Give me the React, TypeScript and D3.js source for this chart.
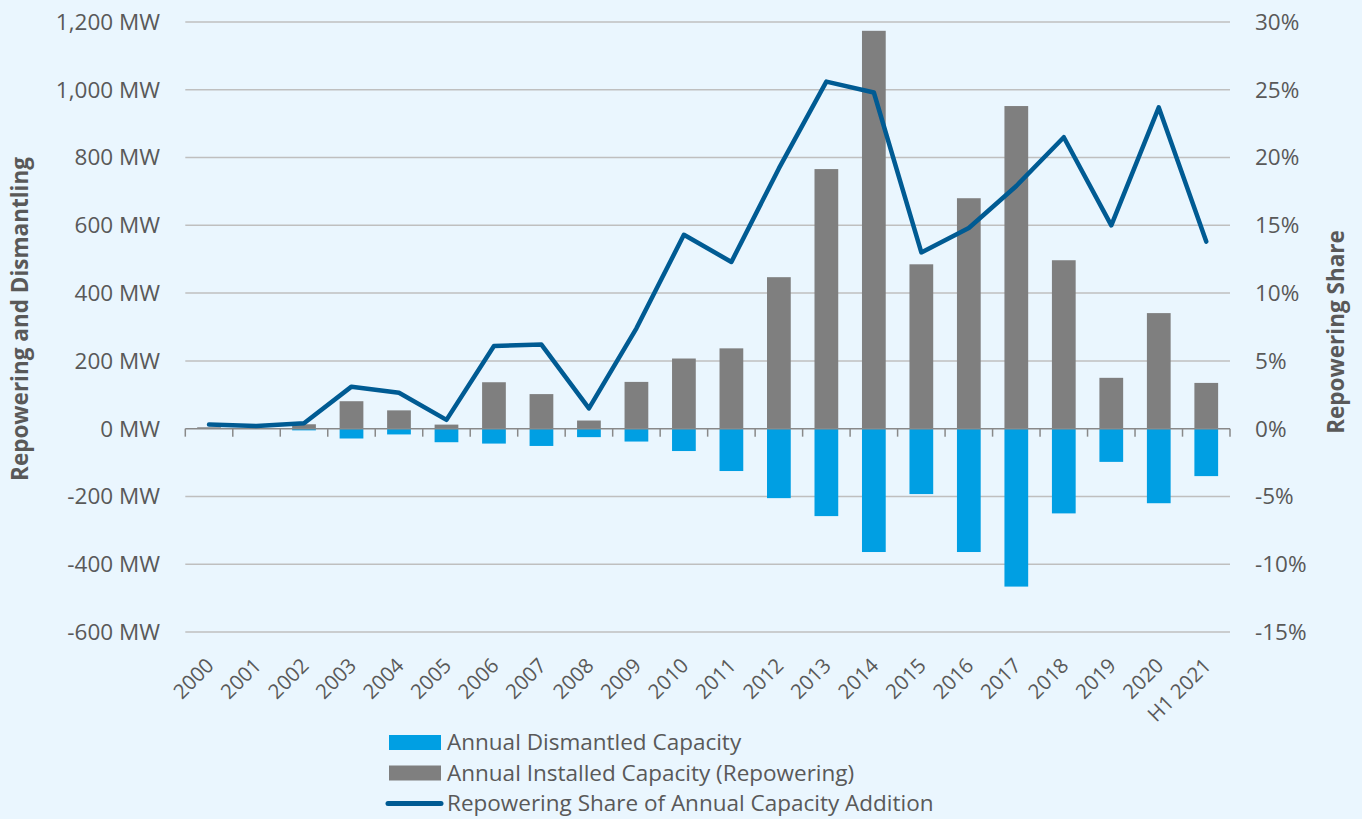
import React from "react";
import * as d3 from "d3";

const categories = ["2000","2001","2002","2003","2004","2005","2006","2007","2008","2009","2010","2011","2012","2013","2014","2015","2016","2017","2018","2019","2020","H1 2021"];
const installed = [4, 1, 13, 81, 54, 12, 137, 102, 24, 138, 207, 237, 447, 766, 1174, 485, 680, 952, 497, 150, 341, 135];
const dismantled = [0, 0, -5, -29, -17, -40, -44, -51, -25, -38, -66, -125, -205, -258, -364, -193, -364, -466, -250, -98, -220, -140];
const share = [0.3, 0.2, 0.4, 3.1, 2.65, 0.65, 6.1, 6.2, 1.5, 7.4, 14.3, 12.3, 19.2, 25.6, 24.8, 13.0, 14.8, 17.9, 21.5, 15.0, 23.7, 13.8];
const leftTicks = [-600, -400, -200, 0, 200, 400, 600, 800, 1000, 1200];
const rightTicks = [-15, -10, -5, 0, 5, 10, 15, 20, 25, 30];
const legendItems = ["Annual Dismantled Capacity", "Annual Installed Capacity (Repowering)", "Repowering Share of Annual Capacity Addition"];

const W = 1362, H = 819;
const left = 185.3, right = 1230, top = 22, bottom = 632;
const font = "'Open Sans', 'Noto Sans', sans-serif";
const textColor = "#595959";
const grey = "#7F7F7F", blue = "#009FE3", lineColor = "#005B93";
const fs = 22.5;

export default function App() {
  const x = d3.scaleBand().domain(categories).range([left, right]).paddingInner(0.5).paddingOuter(0.25);
  const xOuter = d3.scaleBand().domain(categories).range([left, right]);
  const y = d3.scaleLinear().domain([-600, 1200]).range([bottom, top]);
  const y2 = d3.scaleLinear().domain([-15, 30]).range([bottom, top]);
  const line = d3.line<number>().x((_, i) => (xOuter(categories[i]) as number) + xOuter.bandwidth() / 2).y(d => y2(d));
  const fmt = (v: number) => d3.format(",")(v).replace("\u2212", "-");
  return (
    <svg width={W} height={H} style={{ position: "absolute", left: 0, top: 0, background: "#EAF6FE" }} fontFamily={font}>
      <rect x={0} y={0} width={W} height={H} fill="#EAF6FE" />
      {leftTicks.filter(t => t !== 0).map(t => (
        <line key={t} x1={left} x2={right} y1={y(t)} y2={y(t)} stroke="#BFBFBF" strokeWidth={1.5} />
      ))}
      {leftTicks.map(t => (
        <text key={"l" + t} x={160} y={y(t)} dy="0.35em" textAnchor="end" fontSize={fs} fill={textColor}>{fmt(t)} MW</text>
      ))}
      {rightTicks.map(t => (
        <text key={"r" + t} x={1255} y={y2(t)} dy="0.35em" textAnchor="start" fontSize={fs} fill={textColor}>{t}%</text>
      ))}
      {categories.map((c, i) => (
        <g key={c}>
          <rect x={x(c)} width={x.bandwidth()} y={y(installed[i])} height={y(0) - y(installed[i])} fill={grey} />
          <rect x={x(c)} width={x.bandwidth()} y={y(0)} height={y(dismantled[i]) - y(0)} fill={blue} />
        </g>
      ))}
      <line x1={left} x2={right} y1={y(0)} y2={y(0)} stroke="#898989" strokeWidth={1.5} />
      {[...categories.map(c => xOuter(c) as number), right].map((tx, i) => (
        <line key={"t" + i} x1={tx} x2={tx} y1={y(0)} y2={y(0) + 8} stroke="#898989" strokeWidth={1.5} />
      ))}
      <path d={line(share) || ""} fill="none" stroke={lineColor} strokeWidth={4.5} strokeLinejoin="round" strokeLinecap="round" />
      {categories.map(c => {
        const cx = (xOuter(c) as number) + xOuter.bandwidth() / 2 + 6;
        const cy = 667;
        return (
          <text key={"x" + c} transform={`translate(${cx},${cy}) rotate(-45)`} textAnchor="end" fontSize={20.5} fill={textColor}>{c}</text>
        );
      })}
      <text transform={`translate(28,319) rotate(-90)`} textAnchor="middle" fontSize={fs} fontWeight="bold" fill={textColor}>Repowering and Dismantling</text>
      <text transform={`translate(1344,332) rotate(-90)`} textAnchor="middle" fontSize={fs} fontWeight="bold" fill={textColor}>Repowering Share</text>
      {legendItems.map((t, i) => {
        const cy = 742.5 + i * 30.5;
        return (
          <g key={t}>
            {i < 2 ? (
              <rect x={389} y={cy - 7.5} width={52} height={15} fill={i === 0 ? blue : grey} />
            ) : (
              <line x1={388} x2={441} y1={cy} y2={cy} stroke={lineColor} strokeWidth={5} strokeLinecap="round" />
            )}
            <text x={447} y={cy} dy="0.35em" fontSize={fs} fill={textColor}>{t}</text>
          </g>
        );
      })}
    </svg>
  );
}
